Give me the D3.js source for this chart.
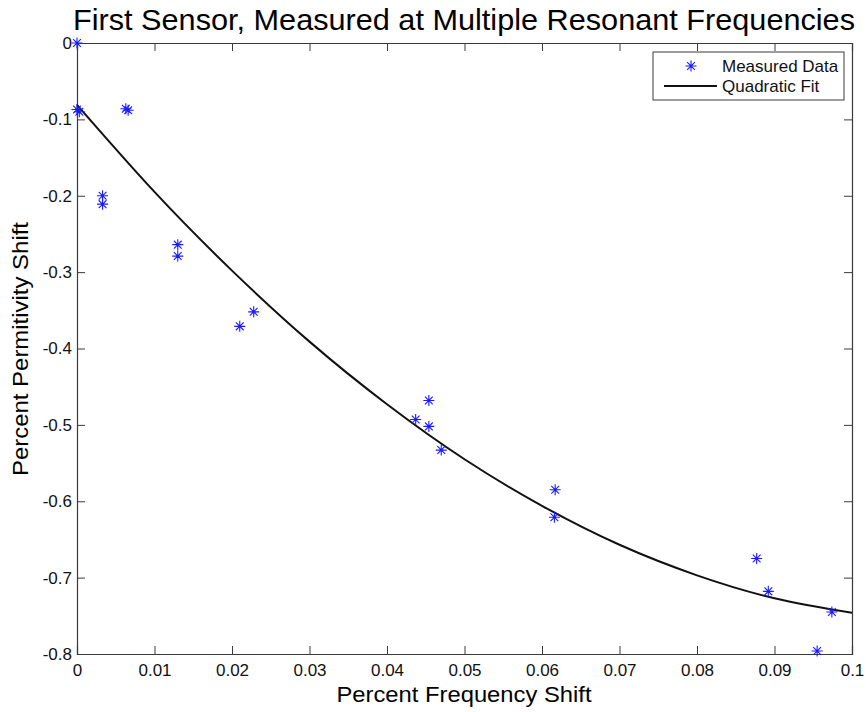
<!DOCTYPE html>
<html>
<head>
<meta charset="utf-8">
<script src="https://cdn.jsdelivr.net/npm/d3@7"></script>
<style>
  body { margin: 0; background: #fff; }
  svg { display: block; font-family: "Liberation Sans", Arial, sans-serif; }
</style>
</head>
<body>
<svg id="chart" width="866" height="712"></svg>
<script>
// measured points
var freqShift = [0, 0, 0.0003, 0.0063, 0.0066, 0.0033, 0.0033, 0.0130, 0.0130, 0.0210, 0.0228,
                 0.0437, 0.0454, 0.0454, 0.0470, 0.0617, 0.0616, 0.0877, 0.0892, 0.0955, 0.0974];
var permShift = [0, -0.087, -0.090, -0.086, -0.088, -0.200, -0.211, -0.264, -0.279, -0.371, -0.352,
                 -0.493, -0.468, -0.502, -0.533, -0.585, -0.621, -0.675, -0.718, -0.796, -0.745];

// quadratic fit curve, sampled off the figure
var fitX = [0, 0.01, 0.02, 0.03, 0.04, 0.05, 0.06, 0.07, 0.08, 0.09, 0.1];
var fitY = [-0.081, -0.195, -0.298, -0.391, -0.473, -0.545, -0.606, -0.657, -0.697, -0.727, -0.746];

var xTicks = [0, 0.01, 0.02, 0.03, 0.04, 0.05, 0.06, 0.07, 0.08, 0.09, 0.1];
var yTicks = [0, -0.1, -0.2, -0.3, -0.4, -0.5, -0.6, -0.7, -0.8];

var margin = {left: 77, right: 14, top: 43, bottom: 58};
var width = 866, height = 712;
var svg = d3.select("#chart");

var x = d3.scaleLinear().domain([0, 0.1]).range([margin.left, width - margin.right]);
var y = d3.scaleLinear().domain([-0.8, 0]).range([height - margin.bottom, margin.top]);

var fmt = function(d) { return d === 0 ? "0" : String(+d.toFixed(2)); };
var axisColor = "#3a3a3a";

// axes, ticks inward like matlab
var xBottom = svg.append("g").attr("transform", "translate(0," + y(-0.8) + ")")
    .call(d3.axisBottom(x).tickValues(xTicks).tickSize(-8).tickPadding(10).tickFormat(fmt));
var xTop = svg.append("g").attr("transform", "translate(0," + y(0) + ")")
    .call(d3.axisTop(x).tickValues(xTicks).tickSize(-8).tickFormat(""));
var yLeft = svg.append("g").attr("transform", "translate(" + x(0) + ",0)")
    .call(d3.axisLeft(y).tickValues(yTicks).tickSize(-8).tickPadding(5).tickFormat(fmt));
var yRight = svg.append("g").attr("transform", "translate(" + x(0.1) + ",0)")
    .call(d3.axisRight(y).tickValues(yTicks).tickSize(-8).tickFormat(""));

[xBottom, xTop, yLeft, yRight].forEach(function(g) {
    g.select(".domain").attr("stroke", axisColor).attr("stroke-width", 1.2);
    g.selectAll(".tick line").attr("stroke", axisColor).attr("stroke-width", 1);
    g.selectAll(".tick text").attr("fill", "#111").style("font-size", "17px")
      .style("font-family", "Liberation Sans, Arial, sans-serif");
});

// fit line
var line = d3.line()
    .x(function(d) { return x(d[0]); })
    .y(function(d) { return y(d[1]); })
    .curve(d3.curveNatural);
svg.append("path")
    .datum(fitX.map(function(v, i) { return [v, fitY[i]]; }))
    .attr("d", line)
    .attr("fill", "none")
    .attr("stroke", "#111")
    .attr("stroke-width", 2);

// asterisk marker (+ and x)
function star(r) {
    var d = "", k = r * Math.SQRT1_2;
    d += "M" + (-r) + ",0L" + r + ",0";
    d += "M0," + (-r) + "L0," + r;
    d += "M" + (-k) + "," + (-k) + "L" + k + "," + k;
    d += "M" + (-k) + "," + k + "L" + k + "," + (-k);
    return d;
}

svg.append("g").selectAll("path")
    .data(freqShift.map(function(v, i) { return [v, permShift[i]]; }))
    .enter().append("path")
    .attr("transform", function(d) { return "translate(" + x(d[0]) + "," + y(d[1]) + ")"; })
    .attr("d", star(5.5))
    .attr("stroke", "#1a1aff")
    .attr("stroke-width", 1.1)
    .attr("fill", "none");

// legend
var leg = svg.append("g");
leg.append("rect").attr("x", 653).attr("y", 52).attr("width", 191).attr("height", 48)
    .attr("fill", "#fff").attr("stroke", axisColor).attr("stroke-width", 1);
leg.append("path").attr("transform", "translate(691,66)").attr("d", star(5.5))
    .attr("stroke", "#1a1aff").attr("stroke-width", 1.1).attr("fill", "none");
leg.append("line").attr("x1", 664).attr("x2", 717).attr("y1", 86).attr("y2", 86)
    .attr("stroke", "#111").attr("stroke-width", 2);
leg.append("text").attr("x", 722).attr("y", 72).text("Measured Data")
    .style("font-size", "17px").attr("fill", "#111");
leg.append("text").attr("x", 722).attr("y", 92).text("Quadratic Fit")
    .style("font-size", "17px").attr("fill", "#111");

// title and axis labels
svg.append("text").attr("x", 464).attr("y", 30).attr("text-anchor", "middle")
    .attr("textLength", 782).attr("lengthAdjust", "spacingAndGlyphs")
    .style("font-size", "30px").attr("fill", "#000")
    .text("First Sensor, Measured at Multiple Resonant Frequencies");

svg.append("text").attr("x", 464).attr("y", 702).attr("text-anchor", "middle")
    .attr("textLength", 255).attr("lengthAdjust", "spacingAndGlyphs")
    .style("font-size", "22px").attr("fill", "#000")
    .text("Percent Frequency Shift");

svg.append("text").attr("transform", "translate(28,349) rotate(-90)").attr("text-anchor", "middle")
    .attr("textLength", 254).attr("lengthAdjust", "spacingAndGlyphs")
    .style("font-size", "22px").attr("fill", "#000")
    .text("Percent Permitivity Shift");
</script>
</body>
</html>
